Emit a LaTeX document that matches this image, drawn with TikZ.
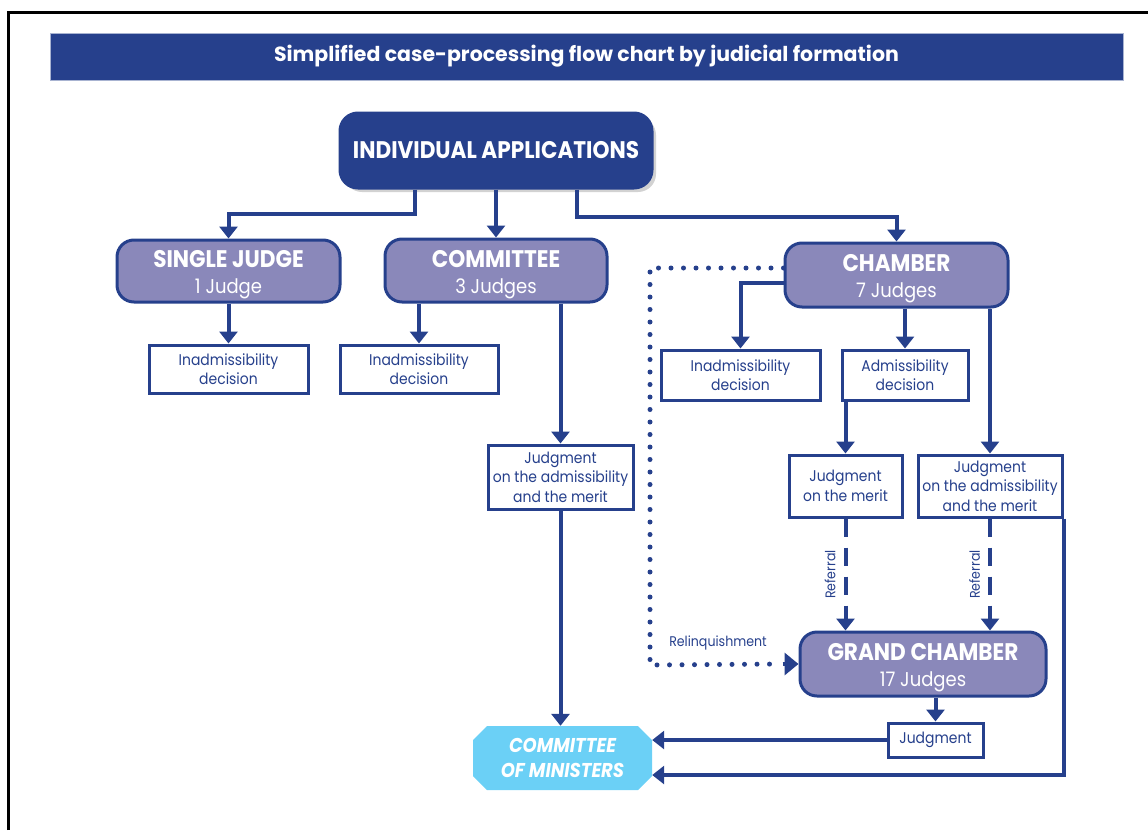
\documentclass[tikz,border=0pt]{standalone}
\usepackage{fontspec}
\setmainfont{Poppins}
\newfontfamily\cf[FakeStretch=0.9]{Poppins}
\usetikzlibrary{arrows.meta,shadows,shapes.misc}
\definecolor{dblue}{HTML}{26408C}
\definecolor{lav}{HTML}{8A88BA}
\definecolor{sky}{HTML}{6BD0F6}
\tikzset{
  bigbox/.style={draw=dblue, line width=3pt, fill=lav, rounded corners=17pt, text=white, align=center, font=\cf\fontsize{20}{26}\selectfont, inner sep=0pt},
  smallbox/.style={draw=dblue, line width=3pt, fill=white, text=dblue, align=center, font=\cf\fontsize{15.5}{19.5}\selectfont, inner sep=0pt},
  arr/.style={draw=dblue, line width=4pt, -{Triangle[width=18pt,length=12pt]}},
  dashedarr/.style={arr, dash pattern=on 18pt off 11pt},
  dotarr/.style={draw=dblue, line width=5pt, line cap=round, dash pattern=on 0pt off 12.5pt},
  lbl/.style={text=dblue, font=\cf\fontsize{14}{16}\selectfont, inner sep=2pt}
}
\newcommand{\hd}[1]{{\fontsize{24}{26}\selectfont\bfseries\rule{0pt}{25pt}#1}}
\begin{document}
\begin{tikzpicture}[x=1pt,y=-1pt]
\useasboundingbox (0,0) rectangle (1148,830);
% frame
\draw[line width=3pt] (8,830) -- (8,12) -- (1148,12);
% title
\node[fill=dblue, draw=dblue!40, line width=0.8pt, minimum width=1073pt, minimum height=47pt, inner sep=0pt, text=white, font=\fontsize{20.5}{24}\selectfont\bfseries] (title) at (586.5,56.5) {Simplified case-processing flow chart by judicial formation};
% main nodes
\node[bigbox, fill=dblue, drop shadow={shadow xshift=4pt, shadow yshift=-4pt, fill=black!35}, minimum width=312pt, minimum height=75pt, rounded corners=18pt, font=\cf\fontsize{24}{28}\selectfont\bfseries] (IA) at (496,150.5) {INDIVIDUAL APPLICATIONS};
\node[bigbox, minimum width=223pt, minimum height=62pt] (SJ) at (228.5,271) {\hd{SINGLE JUDGE}\\1 Judge};
\node[bigbox, minimum width=222pt, minimum height=63pt] (COM) at (496,270.5) {\hd{COMMITTEE}\\3 Judges};
\node[bigbox, minimum width=223pt, minimum height=64pt] (CH) at (896.5,275) {\hd{CHAMBER}\\7 Judges};
\node[bigbox, minimum width=246pt, minimum height=64pt] (GC) at (923,664) {\hd{GRAND CHAMBER}\\17 Judges};
% small boxes
\node[smallbox, minimum width=159pt, minimum height=48pt] (In1) at (228.5,369) {Inadmissibility\\decision};
\node[smallbox, minimum width=158pt, minimum height=48pt] (In2) at (419,369) {Inadmissibility\\decision};
\node[smallbox, minimum width=159pt, minimum height=50pt] (In3) at (740.5,375) {Inadmissibility\\decision};
\node[smallbox, minimum width=126pt, minimum height=50pt] (Adm) at (905,375) {Admissibility\\decision};
\node[smallbox, minimum width=145pt, minimum height=64pt] (J1) at (560.5,477) {Judgment\\on the admissibility\\and the merit};
\node[smallbox, minimum width=113pt, minimum height=62pt] (J2) at (845.5,486) {Judgment\\on the merit};
\node[smallbox, minimum width=144pt, minimum height=62pt] (J3) at (990,486) {Judgment\\on the admissibility\\and the merit};
\node[smallbox, minimum width=95pt, minimum height=34pt] (JG) at (935.5,740) {Judgment};
% committee of ministers
\node[chamfered rectangle, chamfered rectangle xsep=7pt, chamfered rectangle ysep=7pt, fill=sky, minimum width=179pt, minimum height=64pt, inner sep=0pt, text=white, align=center, font=\cf\fontsize{20}{25}\selectfont\bfseries\itshape] (CM) at (562.5,758) {COMMITTEE\\OF MINISTERS};
% connectors
\draw[arr] ([xshift=-81pt]IA.south) -- ++(0,24) -| (SJ.north);
\draw[arr] (IA.south) -- (COM.north);
\draw[arr] ([xshift=81pt]IA.south) -- ++(0,27) -| (CH.north);
\draw[arr] (SJ.south) -- (In1.north);
\draw[arr] (COM.south -| In2.north) -- (In2.north);
\draw[arr] (COM.south -| J1.north) -- (J1.north);
\draw[arr] (J1.south) -- (J1.south |- CM.north);
\draw[arr] ([yshift=-8pt]CH.west) -| (In3.north);
\draw[arr] (CH.south -| Adm.north) -- (Adm.north);
\draw[arr] (Adm.south -| J2.north) -- (J2.north);
\draw[arr] (CH.south -| J3.north) -- (J3.north);
\draw[dashedarr] (J2.south) -- node[midway, rotate=90, above=6pt, lbl] {Referral} (J2.south |- GC.north);
\draw[dashedarr] (J3.south) -- node[midway, rotate=90, above=6pt, lbl] {Referral} (J3.south |- GC.north);
\coordinate (dotc) at (650,665);
\draw[dotarr] ([yshift=7pt]CH.west) -| (dotc) -- ([xshift=-18pt]GC.west);
\draw[draw=dblue, line width=4pt, -{Triangle[width=22pt,length=14pt]}] ([xshift=-16pt]GC.west) -- (GC.west);
\node[lbl] (rel) at (718,643) {Relinquishment};
\draw[arr] (GC.south -| JG.north) -- (JG.north);
\draw[arr] (JG.west) -- (JG.west -| CM.east);
\draw[arr] (J3.south east) |- ([yshift=-17pt]CM.east);
\end{tikzpicture}
\end{document}
